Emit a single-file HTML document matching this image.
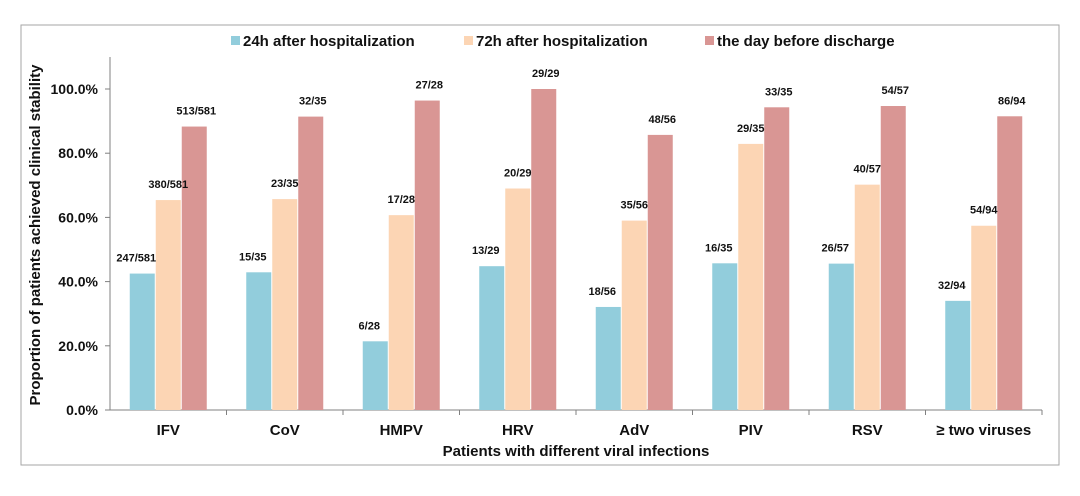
<!DOCTYPE html>
<html><head><meta charset="utf-8"><style>
body{margin:0;background:#fff;font-family:"Liberation Sans",Arial,sans-serif}
svg text{font-family:"Liberation Sans",Arial,sans-serif;font-weight:bold;fill:#111}
</style></head><body>
<svg id="chart" width="1080" height="491" xmlns="http://www.w3.org/2000/svg">
<rect x="21" y="25" width="1038" height="440" fill="#fff" stroke="#a6a6a6" stroke-width="1"/>
<g id="legend">
<rect x="231" y="36" width="9" height="9" fill="#92CDDC"/><text x="243" y="46" font-size="15">24h after hospitalization</text>
<rect x="464" y="36" width="9" height="9" fill="#FCD5B4"/><text x="476" y="46" font-size="15">72h after hospitalization</text>
<rect x="705" y="36" width="9" height="9" fill="#D99694"/><text x="717" y="46" font-size="15">the day before discharge</text>
</g>
<g id="plot"></g>
<text x="576" y="456" font-size="15" text-anchor="middle">Patients with different viral infections</text>
<text transform="translate(40,235) rotate(-90)" font-size="15" text-anchor="middle">Proportion of patients achieved clinical stability</text>
</svg>
<script>
const categories=["IFV","CoV","HMPV","HRV","AdV","PIV","RSV","≥ two viruses"];
const s24=[42.5,42.9,21.4,44.8,32.1,45.7,45.6,34.0];
const s72=[65.4,65.7,60.7,69.0,59.0,82.9,70.2,57.4];
const sDis=[88.3,91.4,96.4,100,85.7,94.3,94.7,91.5];
const l24=["247/581","15/35","6/28","13/29","18/56","16/35","26/57","32/94"];
const l72=["380/581","23/35","17/28","20/29","35/56","29/35","40/57","54/94"];
const lDis=["513/581","32/35","27/28","29/29","48/56","33/35","54/57","86/94"];
const yTicks=[0,20,40,60,80,100];
const NS="http://www.w3.org/2000/svg";
const x0=110,x1=1042,y0=410,y100=89;
const cw=(x1-x0)/categories.length;
const y=v=>y0-(y0-y100)*v/100;
const g=document.getElementById('plot');
function mk(t,a,txt){const e=document.createElementNS(NS,t);for(const k in a)e.setAttribute(k,a[k]);if(txt!=null)e.textContent=txt;g.appendChild(e);return e;}
let e=mk('line',{x1:x0,y1:57,x2:x0,y2:y0,stroke:'#808080'});


e=mk('line',{x1:x0,y1:y0,x2:x1,y2:y0,stroke:'#808080'});


yTicks.forEach(t=>{
 mk('line',{x1:x0-5,y1:y(t),x2:x0,y2:y(t),stroke:'#808080'});
 const tx=mk('text',{x:x0-12,y:y(t)+5,'font-size':14,'text-anchor':'end'},t.toFixed(1)+'%');
 
 
});
const series=[[s24,l24,'#92CDDC','24h'],[s72,l72,'#FCD5B4','72h'],[sDis,lDis,'#D99694','discharge']];
const bw=26;
const off=[-6,0,2];
categories.forEach((c,i)=>{
 const cx=x0+cw*(i+0.5);
 mk('line',{x1:x0+cw*(i+1),y1:y0,x2:x0+cw*(i+1),y2:y0+5,stroke:'#808080'});
 const ct=mk('text',{x:cx,y:y0+25,'font-size':15,'text-anchor':'middle'},c);
 
 
 series.forEach((s,j)=>{
  const bx=cx-1.5*bw+j*bw;
  const r=mk('rect',{x:bx+0.5,y:y(s[0][i]),width:bw-1,height:y0-y(s[0][i]),fill:s[2]});
  
  
 });
});
categories.forEach((c,i)=>{
 const cx=x0+cw*(i+0.5);
 series.forEach((s,j)=>{
  const bx=cx-1.5*bw+j*bw;
  const lt=mk('text',{x:bx+bw/2+off[j],y:y(s[0][i])-12,'font-size':11,'text-anchor':'middle'},s[1][i]);
  
  
 });
});
</script>
</body></html>
